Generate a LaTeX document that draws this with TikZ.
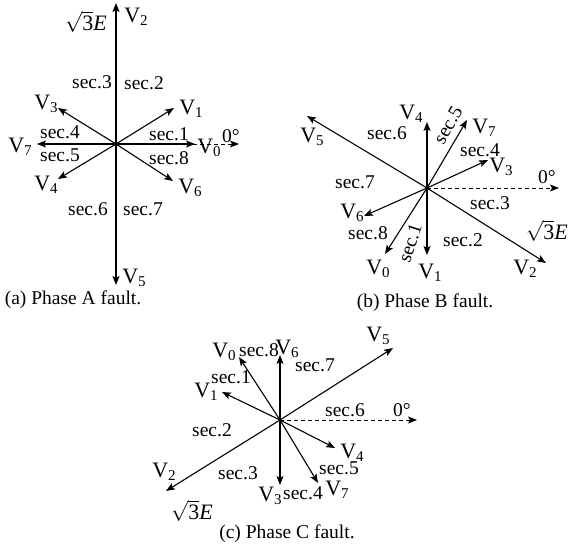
\documentclass[tikz,border=0pt]{standalone}
\usepackage{fontspec}
\setmainfont{Liberation Serif}
\usetikzlibrary{arrows.meta}
\newcommand\Vsub[1]{{\fontsize{22}{24}\selectfont V}\raisebox{-3pt}{\fontsize{15}{15}\selectfont #1}}
\newcommand\rtE{{\fontsize{22}{24}\selectfont$\sqrt{\mbox{3}}\mbox{\itshape E}$}}
\tikzset{
  vec/.style={line width=1.1pt, -{Stealth[length=9pt,width=7pt,inset=2pt]}},
  refline/.style={line width=0.9pt, dash pattern=on 4pt off 3pt, -{Stealth[length=9pt,width=7pt,inset=2pt]}},
  lbl/.style={font=\fontsize{19.5}{23}\selectfont, inner sep=0pt},
}
\begin{document}
\begin{tikzpicture}[x=1pt,y=-1pt]
\useasboundingbox (0,0) rectangle (568,549);
% ---------------- (a) ----------------
\coordinate (oa) at (116,144);
\coordinate (a0) at (195,144);
\coordinate (aref) at (239,144);
\coordinate (a1) at (174,108);
\coordinate (a2) at (116,3);
\coordinate (a3) at (58,108);
\coordinate (a4) at (58,179);
\coordinate (a5) at (116,285);
\coordinate (a6) at (173,181);
\coordinate (a7) at (37,144);
\draw[refline] (oa) -- (aref);
\foreach \t in {a0,a1,a2,a3,a4,a5,a6,a7} \draw[vec] (oa) -- (\t);
\node[lbl] (la-rt) at (86,22) {\rtE};
\node[lbl] (la-v2) at (136,17) {\Vsub{2}};
\node[lbl] (la-s3) at (92,82) {sec.3};
\node[lbl] (la-s2) at (144,83) {sec.2};
\node[lbl] (la-v3) at (46,104) {\Vsub{3}};
\node[lbl] (la-v1) at (191,109) {\Vsub{1}};
\node[lbl] (la-s4) at (60,132) {sec.4};
\node[lbl] (la-s1) at (169,134) {sec.1};
\node[lbl] (la-v7) at (20,147) {\Vsub{7}};
\node[lbl] (la-v0) at (209,148) {\Vsub{0}};
\node[lbl] (la-deg) at (231,136) {0°};
\node[lbl] (la-s5) at (60,155) {sec.5};
\node[lbl] (la-s8) at (169,158) {sec.8};
\node[lbl] (la-v4) at (46,185) {\Vsub{4}};
\node[lbl] (la-v6) at (190,188) {\Vsub{6}};
\node[lbl] (la-s6) at (88,209) {sec.6};
\node[lbl] (la-s7) at (143,209) {sec.7};
\node[lbl] (la-v5) at (134,278) {\Vsub{5}};
\node[lbl] (la-cap) at (73,300) {(a) Phase A fault.};
% ---------------- (b) ----------------
\coordinate (ob) at (427,188);
\coordinate (bref) at (559,188);
\coordinate (b0) at (385,254);
\coordinate (b1) at (427,255);
\coordinate (b2) at (546,263);
\coordinate (b3) at (488,160);
\coordinate (b4) at (427,122);
\coordinate (b5) at (307,116);
\coordinate (b6) at (364,216);
\coordinate (b7) at (467,120);
\draw[refline] (ob) -- (bref);
\foreach \t in {b0,b1,b2,b3,b4,b5,b6,b7} \draw[vec] (ob) -- (\t);
\node[lbl] (lb-v5) at (312,137) {\Vsub{5}};
\node[lbl] (lb-s6) at (387,133) {sec.6};
\node[lbl] (lb-v4) at (411,114) {\Vsub{4}};
\node[lbl,rotate=60] (lb-s5) at (448,125) {sec.5};
\node[lbl] (lb-v7) at (484,128) {\Vsub{7}};
\node[lbl] (lb-s4) at (480,150) {sec.4};
\node[lbl] (lb-v3) at (501,167) {\Vsub{3}};
\node[lbl] (lb-deg) at (547,177) {0°};
\node[lbl] (lb-s7) at (355,182) {sec.7};
\node[lbl] (lb-s3) at (490,203) {sec.3};
\node[lbl] (lb-v6) at (352,213) {\Vsub{6}};
\node[lbl] (lb-s8) at (368,233) {sec.8};
\node[lbl] (lb-rt) at (547,231) {\rtE};
\node[lbl,rotate=72] (lb-s1) at (410,243) {sec.1};
\node[lbl] (lb-s2) at (463,240) {sec.2};
\node[lbl] (lb-v0) at (378,269) {\Vsub{0}};
\node[lbl] (lb-v1) at (430,273) {\Vsub{1}};
\node[lbl] (lb-v2) at (525,269) {\Vsub{2}};
\node[lbl] (lb-cap) at (425,303) {(b) Phase B fault.};
% ---------------- (c) ----------------
\coordinate (oc) at (280,420);
\coordinate (cref) at (417,420);
\coordinate (c0) at (239,357);
\coordinate (c1) at (222,392);
\coordinate (c2) at (166,491);
\coordinate (c3) at (280,485);
\coordinate (c4) at (335,448);
\coordinate (c5) at (393,348);
\coordinate (c6) at (280,355);
\coordinate (c7) at (318,483);
\draw[refline] (oc) -- (cref);
\foreach \t in {c0,c1,c2,c3,c4,c5,c6,c7} \draw[vec] (oc) -- (\t);
\node[lbl] (lc-v5) at (378,336) {\Vsub{5}};
\node[lbl] (lc-v0) at (224,352) {\Vsub{0}};
\node[lbl] (lc-s8) at (259,350) {sec.8};
\node[lbl] (lc-v6) at (287,349) {\Vsub{6}};
\node[lbl] (lc-s7) at (315,365) {sec.7};
\node[lbl] (lc-s1) at (231,377) {sec.1};
\node[lbl] (lc-v1) at (206,392) {\Vsub{1}};
\node[lbl] (lc-s6) at (345,410) {sec.6};
\node[lbl] (lc-deg) at (402,410) {0°};
\node[lbl] (lc-s2) at (212,430) {sec.2};
\node[lbl] (lc-v4) at (352,453) {\Vsub{4}};
\node[lbl] (lc-v2) at (164,472) {\Vsub{2}};
\node[lbl] (lc-s3) at (238,473) {sec.3};
\node[lbl] (lc-s5) at (339,468) {sec.5};
\node[lbl] (lc-v3) at (270,496) {\Vsub{3}};
\node[lbl] (lc-s4) at (303,493) {sec.4};
\node[lbl] (lc-v7) at (337,490) {\Vsub{7}};
\node[lbl] (lc-rt) at (192,511) {\rtE};
\node[lbl] (lc-cap) at (287,534) {(c) Phase C fault.};
\end{tikzpicture}
\end{document}
